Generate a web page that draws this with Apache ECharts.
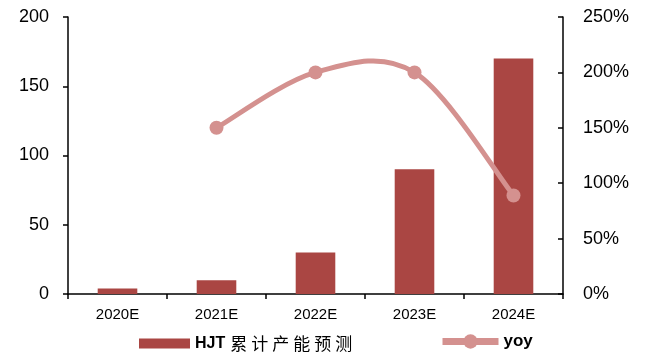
<!DOCTYPE html>
<html>
<head>
<meta charset="utf-8">
<script src="https://cdn.jsdelivr.net/npm/echarts@6/dist/echarts.min.js"></script>
<style>
  html, body { margin: 0; padding: 0; background: #fff; }
  #chart { width: 654px; height: 358px; }
</style>
</head>
<body>
<div id="chart"></div>
<script>
// HJT cumulative capacity forecast and year-on-year growth
const categories = ['2020E', '2021E', '2022E', '2023E', '2024E'];
const capacity = [4, 10, 30, 90, 170];
const yoy = [null, 1.5, 2.0, 2.0, 0.889];
const leftTicks = [0, 50, 100, 150, 200];
const rightTicks = [0, 0.5, 1.0, 1.5, 2.0, 2.5];

const barName = 'HJT累计产能预测';
const lineName = 'yoy';
const barColor = '#aa4643';
const lineColor = '#d4918f';

// Legend label: Latin part bold, each CJK character slightly spaced
const barLegendLabel = s => {
  const latin = s.match(/^[A-Za-z]+/);
  const head = latin ? latin[0] : '';
  const rest = s.slice(head.length).split('');
  return (head ? '{b|' + head + '}' : '') + rest.map(c => '{s|' + c + '}').join('');
};

// Smooth curve segment between neighbouring yoy points (cardinal spline through the data)
function renderCurve(params, api) {
  const i = params.dataIndex;
  const j = i + 1;
  if (yoy[i] == null || j >= yoy.length || yoy[j] == null) return null;
  const pt = k => api.coord([k, yoy[k]]);
  const p1 = pt(i), p2 = pt(j);
  const p0 = (i - 1 >= 0 && yoy[i - 1] != null) ? pt(i - 1) : p1;
  const p3 = (j + 1 < yoy.length && yoy[j + 1] != null) ? pt(j + 1) : p2;
  return {
    type: 'bezierCurve',
    shape: {
      x1: p1[0], y1: p1[1], x2: p2[0], y2: p2[1],
      cpx1: p1[0] + (p2[0] - p0[0]) / 6, cpy1: p1[1] + (p2[1] - p0[1]) / 6,
      cpx2: p2[0] - (p3[0] - p1[0]) / 6, cpy2: p2[1] - (p3[1] - p1[1]) / 6
    },
    style: { stroke: lineColor, lineWidth: 5, fill: null, lineCap: 'round' }
  };
}

const chart = echarts.init(document.getElementById('chart'));
chart.setOption({
  animation: false,
  backgroundColor: '#fff',
  textStyle: { fontFamily: 'Liberation Sans, Arial, sans-serif', color: '#000' },
  grid: { left: 68, right: 91, top: 17, bottom: 64, containLabel: false },
  legend: [
    {
      data: [{ name: barName, icon: 'rect' }],
      left: 134, top: 330,
      itemWidth: 51, itemHeight: 10, itemGap: 0,
      formatter: barLegendLabel,
      textStyle: {
        fontSize: 16, color: '#000',
        rich: {
          b: { fontSize: 16, fontWeight: 'bold', color: '#000', fontFamily: 'Liberation Sans, Arial, sans-serif', padding: [0, 3, 0, 0] },
          s: { fontSize: 17, padding: [0, 2], color: '#000', fontFamily: 'Noto Sans CJK SC, sans-serif' }
        }
      }
    },
    {
      data: [lineName],
      left: 434, top: 328,
      itemWidth: 56, itemHeight: 18, itemGap: 0,
      lineStyle: { color: lineColor, width: 7, opacity: 1 },
      textStyle: { fontSize: 17, color: '#000', fontWeight: 'bold', fontFamily: 'Liberation Sans, Arial, sans-serif' }
    }
  ],
  xAxis: {
    type: 'category',
    data: categories,
    boundaryGap: true,
    axisLine: { lineStyle: { color: '#000', width: 1.5 } },
    axisTick: { show: true, length: 5, lineStyle: { color: '#000', width: 1.5 } },
    axisLabel: { fontSize: 15, color: '#000', margin: 13 }
  },
  yAxis: [
    {
      type: 'value',
      min: leftTicks[0], max: leftTicks[leftTicks.length - 1], interval: 50,
      splitLine: { show: false },
      axisLine: { show: true, lineStyle: { color: '#000', width: 1.5 } },
      axisTick: { show: true, length: 5, lineStyle: { color: '#000', width: 1.5 } },
      axisLabel: { fontSize: 18, color: '#000', margin: 19 }
    },
    {
      type: 'value',
      position: 'right',
      min: rightTicks[0], max: rightTicks[rightTicks.length - 1], interval: 0.5,
      splitLine: { show: false },
      axisLine: { show: true, lineStyle: { color: '#000', width: 1.5 } },
      axisTick: { show: true, inside: true, length: 5, lineStyle: { color: '#000', width: 1.5 } },
      axisLabel: { fontSize: 18, color: '#000', margin: 20, formatter: v => Math.round(v * 100) + '%' }
    }
  ],
  series: [
    {
      name: barName,
      type: 'bar',
      data: capacity,
      barWidth: '40%',
      itemStyle: { color: barColor }
    },
    {
      name: 'yoy-curve',
      type: 'custom',
      yAxisIndex: 1,
      silent: true,
      z: 3,
      data: yoy.map((v, i) => [i, v == null ? '-' : v]),
      renderItem: renderCurve
    },
    {
      name: lineName,
      type: 'line',
      yAxisIndex: 1,
      z: 4,
      data: yoy,
      symbol: 'circle',
      symbolSize: 14,
      lineStyle: { color: lineColor, width: 0, opacity: 0 },
      itemStyle: { color: lineColor }
    }
  ]
});
</script>
</body>
</html>
